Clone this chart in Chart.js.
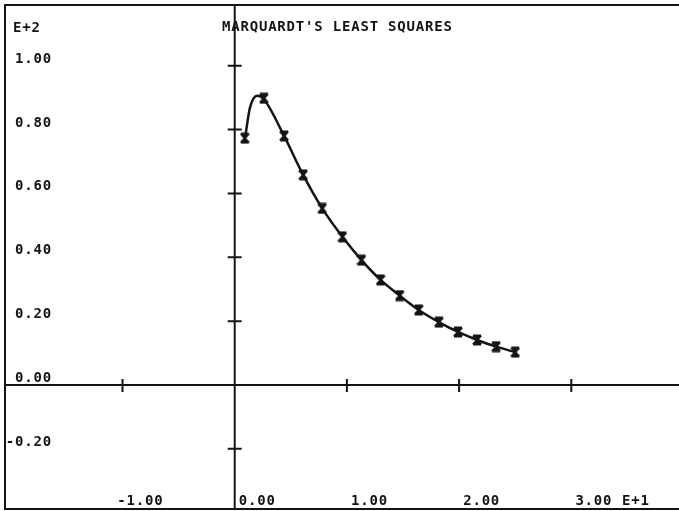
<!DOCTYPE html>
<html>
<head>
<meta charset="utf-8">
<script src="https://cdn.jsdelivr.net/npm/chart.js@4/dist/chart.umd.min.js"></script>
<style>
body { margin: 0; background: #fff; }
canvas { display: block; }
</style>
</head>
<body>
<canvas id="chart" width="679" height="511"></canvas>
<script>
// measured points (x in units of E+1, y in units of E+2)
const pointX = [0.09, 0.26, 0.44, 0.61, 0.78, 0.96, 1.13, 1.30, 1.47, 1.64, 1.82, 1.99, 2.16, 2.33, 2.50];
const pointY = [0.773, 0.898, 0.78, 0.658, 0.553, 0.464, 0.391, 0.329, 0.28, 0.235, 0.197, 0.166, 0.141, 0.12, 0.103];

// fitted curve
const curveX = [0.095, 0.135, 0.2, 0.26, 0.44, 0.61, 0.78, 0.96, 1.13, 1.30, 1.47, 1.64, 1.82, 1.99, 2.16, 2.33, 2.50];
const curveY = [0.78, 0.867, 0.906, 0.895, 0.78, 0.658, 0.553, 0.464, 0.391, 0.329, 0.28, 0.235, 0.197, 0.166, 0.141, 0.12, 0.103];

const xTicks = [-1, 0, 1, 2, 3];
const xTickLabels = ['-1.00', '0.00', '1.00', '2.00', '3.00'];
const yTicks = [1.0, 0.8, 0.6, 0.4, 0.2, 0.0, -0.2];
const yTickLabels = ['1.00', '0.80', '0.60', '0.40', '0.20', '0.00', '-0.20'];

const title = "MARQUARDT'S LEAST SQUARES";
const ink = '#141414';
const font = 'bold 14px "DejaVu Sans Mono", monospace';

// hourglass marker like the plotter symbol
function makeMarker() {
    const c = document.createElement('canvas');
    c.width = 10;
    c.height = 12;
    const g = c.getContext('2d');
    g.strokeStyle = ink;
    g.fillStyle = ink;
    g.lineWidth = 2.2;
    g.beginPath();
    g.moveTo(1, 1.5); g.lineTo(9, 1.5); g.lineTo(5, 6);
    g.closePath();
    g.moveTo(1, 10.5); g.lineTo(9, 10.5); g.lineTo(5, 6);
    g.closePath();
    g.fill();
    g.beginPath();
    g.moveTo(1, 1.5); g.lineTo(9, 10.5);
    g.moveTo(9, 1.5); g.lineTo(1, 10.5);
    g.moveTo(1, 1.5); g.lineTo(9, 1.5);
    g.moveTo(1, 10.5); g.lineTo(9, 10.5);
    g.stroke();
    return c;
}

const plotterFrame = {
    id: 'plotterFrame',
    beforeDatasetsDraw(chart) {
        const ctx = chart.ctx;
        const xs = chart.scales.x;
        const ys = chart.scales.y;
        const x0 = xs.getPixelForValue(0);
        const y0 = ys.getPixelForValue(0);
        ctx.save();
        ctx.strokeStyle = ink;
        ctx.lineWidth = 2;

        // frame (right side runs off the page)
        ctx.beginPath();
        ctx.moveTo(690, 5);
        ctx.lineTo(5, 5);
        ctx.lineTo(5, 509);
        ctx.lineTo(690, 509);
        ctx.stroke();

        // axes through the origin
        ctx.beginPath();
        ctx.moveTo(x0, 5);
        ctx.lineTo(x0, 509);
        ctx.moveTo(5, y0);
        ctx.lineTo(690, y0);
        ctx.stroke();

        // tick marks
        ctx.beginPath();
        yTicks.forEach(v => {
            if (v === 0) return;
            const y = ys.getPixelForValue(v);
            ctx.moveTo(x0 - 7, y);
            ctx.lineTo(x0 + 7, y);
        });
        xTicks.forEach(v => {
            if (v === 0) return;
            const x = xs.getPixelForValue(v);
            ctx.moveTo(x, y0 - 6);
            ctx.lineTo(x, y0 + 7);
        });
        ctx.stroke();

        // text
        ctx.fillStyle = ink;
        ctx.font = font;
        ctx.letterSpacing = '0.8px';
        ctx.textBaseline = 'alphabetic';

        ctx.textAlign = 'left';
        ctx.fillText('E+2', 13, 32);
        ctx.fillText(title, 222, 31);
        ctx.fillText('E+1', 622, 505);

        ctx.textAlign = 'right';
        yTicks.forEach((v, i) => {
            ctx.fillText(yTickLabels[i], 52, ys.getPixelForValue(v) - 3);
        });
        xTicks.forEach((v, i) => {
            ctx.fillText(xTickLabels[i], xs.getPixelForValue(v) + 41, 505);
        });
        ctx.restore();
    }
};

const marker = makeMarker();

new Chart(document.getElementById('chart'), {
    type: 'scatter',
    data: {
        datasets: [{
            label: 'fit',
            data: curveX.map((x, i) => ({ x: x, y: curveY[i] })),
            showLine: true,
            borderColor: ink,
            borderWidth: 2.5,
            pointRadius: 0,
            cubicInterpolationMode: 'monotone',
            fill: false
        }, {
            label: 'data',
            data: pointX.map((x, i) => ({ x: x, y: pointY[i] })),
            showLine: false,
            pointStyle: marker,
            pointRadius: 5
        }]
    },
    options: {
        responsive: false,
        animation: false,
        devicePixelRatio: 1,
        layout: { padding: 0, autoPadding: false },
        scales: {
            x: { type: 'linear', display: false, min: -2.092, max: 3.96 },
            y: { type: 'linear', display: false, min: -0.3946, max: 1.2057 }
        },
        plugins: {
            legend: { display: false },
            tooltip: { enabled: false }
        }
    },
    plugins: [plotterFrame]
});
</script>
</body>
</html>
